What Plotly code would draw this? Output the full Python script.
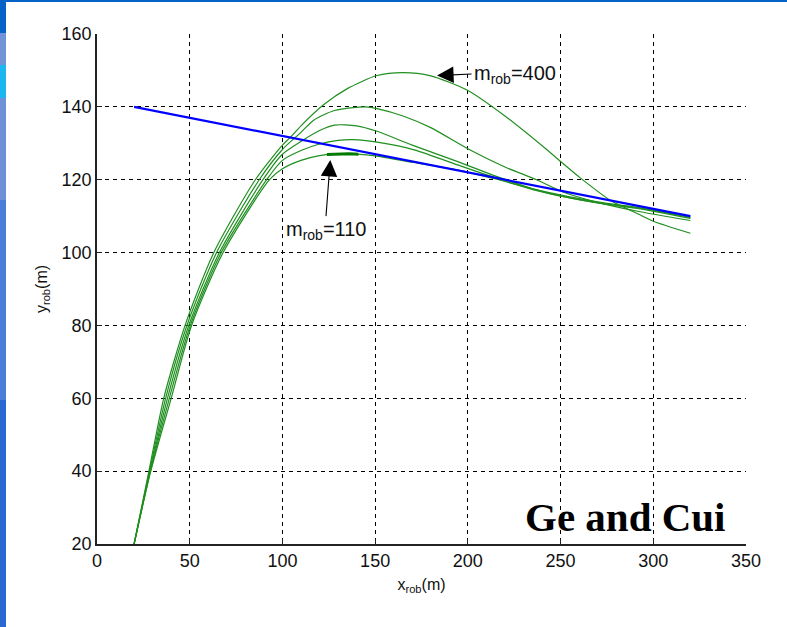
import plotly.graph_objects as go

# ---------------- data ----------------
line_x = [20, 320]
line_y = [140, 110]

m400_x = [20, 28, 36, 47.5, 63, 85.4, 100, 104, 110, 122, 135, 151, 165, 180, 200, 220, 242, 250, 260.6, 277, 293, 300, 320]
m400_y = [20, 40, 60, 80, 100, 120, 129.5, 131.5, 134.8, 140.5, 145, 148.6, 149.4, 148.5, 144.5, 137.5, 128.5, 125, 120.5, 114.3, 110.3, 108.6, 105.3]

m300_x = [20, 28.3, 37, 48.5, 64.5, 87.5, 100, 110, 117, 128, 138, 145, 151, 165, 180, 200, 220, 237, 252, 270, 293, 320]
m300_y = [20, 40, 60, 80, 100, 120, 128.3, 133, 136.4, 139, 139.8, 140, 139.5, 137.5, 134.3, 128.5, 123.5, 120, 116.5, 113.8, 111.2, 108.8]

m200_x = [20, 28.6, 38, 49.5, 66, 89.5, 100, 110, 120, 128, 140, 151, 170, 196, 215, 235, 255, 275, 293, 320]
m200_y = [20, 40, 60, 80, 100, 120, 127, 130.5, 133.5, 135, 134.8, 133.3, 129.5, 124.7, 121, 117.5, 115, 113.3, 112, 109.4]

m150_x = [20, 28.8, 39, 50.3, 67, 91.5, 100, 110, 120, 130, 138, 151, 171, 196, 215, 235, 255, 275, 293, 320]
m150_y = [20, 40, 60, 80, 100, 120, 125.3, 128, 129.8, 130.8, 131, 130.3, 128.2, 123.8, 120.5, 117.3, 115, 113.2, 112.2, 109.6]

m110_x = [20, 29, 40, 51, 68, 93, 100, 110, 120, 128, 140, 151, 170, 196, 215, 235, 255, 275, 293, 320]
m110_y = [20, 40, 60, 80, 100, 120, 123, 125.3, 126.6, 127, 127, 126.5, 124.8, 122.5, 120.2, 117.5, 115.3, 113.5, 112.3, 109.8]

highlight_x = [124, 130, 136, 141]
highlight_y = [126.9, 127.1, 127.1, 127.0]

x_ticks = [0, 50, 100, 150, 200, 250, 300, 350]
y_ticks = [20, 40, 60, 80, 100, 120, 140, 160]

GREEN = "#1f8f1f"
BLUE = "#0000ff"
FONT = "Liberation Sans, Arial, sans-serif"

fig = go.Figure()

for xs, ys in [(m400_x, m400_y), (m300_x, m300_y), (m200_x, m200_y), (m150_x, m150_y), (m110_x, m110_y)]:
    fig.add_trace(go.Scatter(x=xs, y=ys, mode="lines",
                             line=dict(color=GREEN, width=1.2, shape="spline", smoothing=0.7),
                             hoverinfo="skip"))

fig.add_trace(go.Scatter(x=highlight_x, y=highlight_y, mode="lines",
                         line=dict(color="#007a00", width=3), hoverinfo="skip"))

fig.add_trace(go.Scatter(x=line_x, y=line_y, mode="lines",
                         line=dict(color=BLUE, width=2.2), hoverinfo="skip"))

axis_common = dict(
    showgrid=True, gridcolor="black", gridwidth=1, griddash="4px,4px",
    showline=True, linecolor="#222", linewidth=1.5, mirror=False,
    ticks="inside", ticklen=5, tickcolor="#222",
    tickfont=dict(family=FONT, size=18, color="#111"),
    zeroline=False, fixedrange=True,
)

fig.update_xaxes(range=[0, 350], tickvals=x_ticks, ticktext=[str(v) for v in x_ticks],
                 title=dict(text="x<sub>rob</sub>(m)", font=dict(family=FONT, size=16, color="#111"), standoff=8),
                 **axis_common)
fig.update_yaxes(range=[20, 160], tickvals=y_ticks, ticktext=[str(v) for v in y_ticks],
                 title=dict(text="y<sub>rob</sub>(m)", font=dict(family=FONT, size=16, color="#111"), standoff=10),
                 **axis_common)

# annotations
fig.add_annotation(x=183.4, y=148.6, ax=202.0, ay=149.0, axref="x", ayref="y",
                   xref="x", yref="y", text="m<sub>rob</sub>=400", xanchor="left",
                   showarrow=True, arrowhead=2, arrowsize=3, arrowwidth=1.1, arrowcolor="black",
                   font=dict(family=FONT, size=20, color="#111"))
fig.add_annotation(x=125.8, y=125.4, ax=123.5, ay=110.0, axref="x", ayref="y",
                   xref="x", yref="y", text="m<sub>rob</sub>=110", yanchor="top",
                   showarrow=True, arrowhead=2, arrowsize=3, arrowwidth=1.1, arrowcolor="black",
                   font=dict(family=FONT, size=20, color="#111"))
fig.add_annotation(x=0.972, y=0.053, xref="paper", yref="paper", text="<b>Ge and Cui</b>",
                   xanchor="right", yanchor="middle", showarrow=False,
                   font=dict(family="Liberation Serif, Times New Roman, serif", size=41, color="black"))

# slide decoration (left strip and top line)
L, T, B, R = 97, 34, 83, 41
W, H = 787 - L - R, 627 - T - B
def px(xp):
    return (xp - L) / W
def py(yp):
    return (627 - B - yp) / H

shapes = []
def rect(x0, y0, x1, y1, color):
    shapes.append(dict(type="rect", xref="paper", yref="paper", x0=px(x0), x1=px(x1),
                       y0=py(y1), y1=py(y0), fillcolor=color, line=dict(width=0), layer="below"))

rect(0, 0, 787, 2, "#0563c8")
rect(0, 0, 6, 33, "#0563c8")
rect(0, 33, 6, 65, "#7393d8")
rect(0, 65, 6, 98, "#1eb6f0")
rect(0, 98, 6, 200, "#6f8fd8")
rect(0, 200, 6, 400, "#4a7ed8")
rect(0, 400, 6, 627, "#2a6ad0")

fig.update_layout(
    width=787, height=627,
    margin=dict(l=L, r=R, t=T, b=B),
    paper_bgcolor="white", plot_bgcolor="white",
    showlegend=False, shapes=shapes,
)

fig.write_html("out.html", config={"displayModeBar": False},
               post_script="document.body.style.margin='0';document.body.style.overflow='hidden';")
